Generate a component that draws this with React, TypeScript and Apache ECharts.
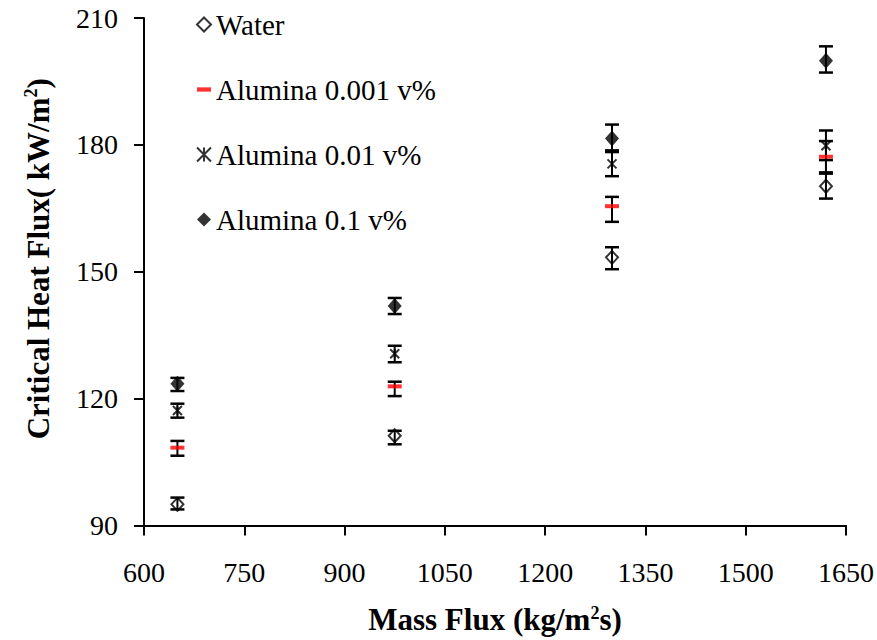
import React, { useEffect, useRef } from "react";
import * as echarts from "echarts";

const massFlux = [650, 975, 1300, 1620];
const xTicks = [600, 750, 900, 1050, 1200, 1350, 1500, 1650];
const yTicks = [90, 120, 150, 180, 210];

const seriesNames = ["Water", "Alumina 0.001 v%", "Alumina 0.01 v%", "Alumina 0.1 v%"];

const waterChf = [95.0, 111.2, 153.4, 170.2];
const waterLow = [93.8, 109.2, 150.6, 167.3];
const waterHigh = [96.6, 112.4, 155.8, 173.2];

const alu001Chf = [108.4, 122.9, 165.5, 177.2];
const alu001Low = [106.5, 120.6, 161.8, 173.5];
const alu001High = [110.0, 124.0, 167.7, 180.9];

const alu01Chf = [117.2, 130.6, 175.5, 179.8];
const alu01Low = [115.5, 128.6, 172.6, 176.4];
const alu01High = [118.8, 132.5, 178.3, 183.4];

const alu1Chf = [123.5, 141.9, 181.5, 199.9];
const alu1Low = [121.8, 140.0, 178.7, 197.1];
const alu1High = [124.9, 143.8, 184.8, 203.3];

const FONT = "Liberation Serif";
const ASTERISK = "path://M0,0L10,10M10,0L0,10M5,0L5,10";
const DASH = "path://M0,0L13,0L13,4L0,4Z";

export default function App() {
  const ref = useRef<HTMLDivElement>(null);
  useEffect(() => {
    if (!ref.current) return;
    const chart = echarts.init(ref.current, null, { renderer: "svg" });
    const pts = (ys: number[]) => massFlux.map((x, i) => [x, ys[i]]);
    const errData: number[][] = [];
    const groups = [
      [waterLow, waterHigh],
      [alu001Low, alu001High],
      [alu01Low, alu01High],
      [alu1Low, alu1High],
    ];
    groups.forEach(([lo, hi]) => {
      massFlux.forEach((x, i) => errData.push([x, lo[i], hi[i]]));
    });
    const supStyle = { fontFamily: FONT, fontWeight: "bold", fontSize: 18, color: "#000", padding: [0, 0, 14, 0] };

    chart.setOption({
      animation: false,
      backgroundColor: "#fff",
      textStyle: { fontFamily: FONT },
      grid: { left: 144, top: 18, width: 703, height: 509, containLabel: false },
      legend: {
        orient: "vertical",
        left: 191,
        top: 5,
        itemWidth: 14,
        itemHeight: 14,
        itemGap: 36,
        itemTextGap: 11,
        textStyle: { fontFamily: FONT, fontSize: 29, color: "#000" },
        data: [
          { name: seriesNames[0], icon: "diamond" },
          { name: seriesNames[1], icon: DASH },
          { name: seriesNames[2], icon: ASTERISK },
          { name: seriesNames[3], icon: "diamond" },
        ],
      },
      xAxis: {
        type: "value",
        min: xTicks[0],
        max: xTicks[xTicks.length - 1],
        interval: 150,
        name: "Mass Flux (kg/m{sup|2}s)",
        nameLocation: "middle",
        nameGap: 78,
        nameTextStyle: {
          fontFamily: FONT,
          fontWeight: "bold",
          fontSize: 31,
          color: "#000",
          rich: { sup: supStyle },
        },
        axisLine: { lineStyle: { color: "#000", width: 2 } },
        axisTick: { length: 10, lineStyle: { color: "#000", width: 2 } },
        splitLine: { show: false },
        axisLabel: { fontFamily: FONT, fontSize: 28, color: "#000", margin: 33, formatter: (v: number) => String(v) },
      },
      yAxis: {
        type: "value",
        min: yTicks[0],
        max: yTicks[yTicks.length - 1],
        interval: 30,
        name: "Critical Heat Flux( kW/m{sup|2})",
        nameLocation: "middle",
        nameGap: 90,
        nameTextStyle: {
          fontFamily: FONT,
          fontWeight: "bold",
          fontSize: 31,
          color: "#000",
          padding: [0, 0, 0, 26],
          rich: { sup: supStyle },
        },
        axisLine: { show: true, lineStyle: { color: "#000", width: 2 } },
        axisTick: { show: true, length: 10, lineStyle: { color: "#000", width: 2 } },
        splitLine: { show: false },
        axisLabel: { fontFamily: FONT, fontSize: 28, color: "#000", margin: 26, formatter: (v: number) => String(v) },
      },
      series: [
        {
          type: "custom",
          name: "errors",
          z: 1,
          data: errData,
          encode: { x: 0, y: [1, 2] },
          renderItem: (_params: any, api: any) => {
            const x = api.value(0);
            const p1 = api.coord([x, api.value(1)]);
            const p2 = api.coord([x, api.value(2)]);
            const hw = 7;
            return {
              type: "group",
              children: [
                { type: "line", shape: { x1: p1[0], y1: p1[1], x2: p2[0], y2: p2[1] }, style: { stroke: "#000", lineWidth: 2 } },
                { type: "line", shape: { x1: p1[0] - hw, y1: p1[1], x2: p1[0] + hw, y2: p1[1] }, style: { stroke: "#000", lineWidth: 2.5 } },
                { type: "line", shape: { x1: p2[0] - hw, y1: p2[1], x2: p2[0] + hw, y2: p2[1] }, style: { stroke: "#000", lineWidth: 2.5 } },
              ],
            };
          },
        },
        {
          type: "scatter",
          name: seriesNames[0],
          z: 3,
          symbol: "diamond",
          symbolSize: [12, 13],
          itemStyle: { color: "transparent", borderColor: "#000", borderWidth: 2 },
          data: pts(waterChf),
        },
        {
          type: "scatter",
          name: seriesNames[1],
          z: 3,
          symbol: "rect",
          symbolSize: [14, 4],
          itemStyle: { color: "#ff0000" },
          data: pts(alu001Chf),
        },
        {
          type: "scatter",
          name: seriesNames[2],
          z: 3,
          symbol: ASTERISK,
          symbolSize: [9, 9],
          itemStyle: { color: "#000", borderColor: "#000", borderWidth: 2 },
          data: pts(alu01Chf),
        },
        {
          type: "scatter",
          name: seriesNames[3],
          z: 3,
          symbol: "diamond",
          symbolSize: [14, 16],
          itemStyle: { color: "#000" },
          data: pts(alu1Chf),
        },
      ],
    });
    return () => chart.dispose();
  }, []);
  return <div ref={ref} style={{ position: "absolute", left: 0, top: 0, width: 877, height: 640 }} />;
}
